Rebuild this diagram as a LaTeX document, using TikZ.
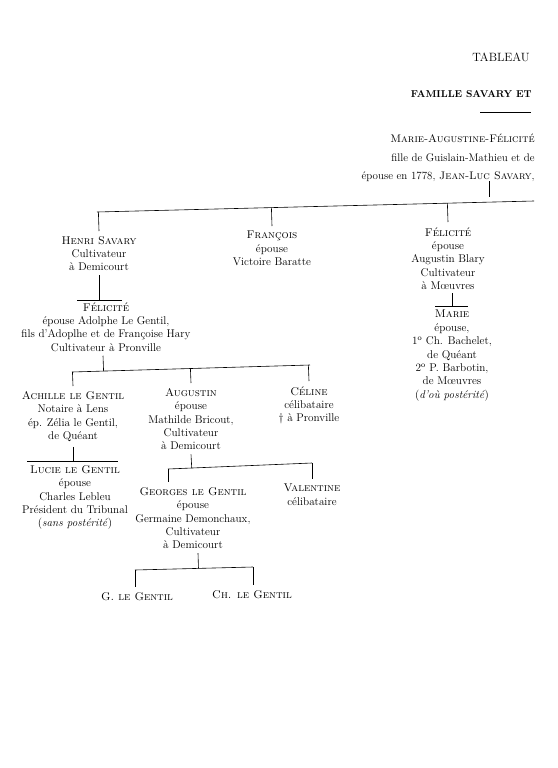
\documentclass[tikz,border=0pt]{standalone}
\usepackage{tikz}
\usetikzlibrary{calc}
\newcommand{\corps}[0]{\fontsize{11.2}{13.4}\selectfont}
\newcommand{\tige}[2]{\draw ($(#1)$) -- ($(#2)$)}

\begin{document}
\begin{tikzpicture}[x=1pt,y=-1pt,line width=0.6pt,
	perso/.style={align=center,anchor=north,inner sep=0pt,font=\corps},
	titre/.style={align=right,anchor=north east,inner sep=0pt,font=\corps}]
	\useasboundingbox (0,0) rectangle (557,768);
	% en-tete
	\node[titre,font=\fontsize{12}{14}\selectfont] (tableau) at (530,53) {TABLEAU};
	\node[titre,font=\fontsize{10}{12}\selectfont\bfseries] (famille) at (532,90) {FAMILLE SAVARY ET};
	\coordinate (r1) at (480,112);
	\coordinate (r2) at (531,112);
	\draw (r1) -- (r2);
	\node[titre,font=\fontsize{11}{18.5}\selectfont] (souche) at (535,134)
		{\textsc{Marie-Augustine-Félicité}\\fille de Guislain-Mathieu et de\\épouse en 1778, \textsc{Jean-Luc Savary},};
	% barres
	\coordinate (b1g) at (97,212);
	\coordinate (b1d) at (534,201);
	\coordinate (b2g) at (72,372);
	\coordinate (b2d) at (310,365);
	\coordinate (b3g) at (168,469);
	\coordinate (b3d) at (312,463);
	\coordinate (b4g) at (135,570);
	\coordinate (b4d) at (253,567);
	\coordinate (o1g) at (77,300);
	\coordinate (o1d) at (122,300);
	\coordinate (o2g) at (435,306);
	\coordinate (o2d) at (468,306);
	\coordinate (o3g) at (27,461);
	\coordinate (o3d) at (118,461);
	\coordinate (t1) at (489,181);
	\coordinate (t2) at (489,197);
	\foreach \g/\d in {b1g/b1d,b2g/b2d,b3g/b3d,b4g/b4d,o1g/o1d,o2g/o2d,o3g/o3d,t1/t2}
		\draw (\g) -- (\d);
	% personnes
	\node[perso] (henri) at (99,236) {\textsc{Henri Savary}\\Cultivateur\\à Demicourt};
	\node[perso] (francois) at (272,231) {\textsc{François}\\épouse\\Victoire Baratte};
	\node[perso] (felR) at (448,227) {\textsc{Félicité}\\épouse\\Augustin Blary\\Cultivateur\\à Mœuvres};
	\node[perso] (marie) at (452,310) {\textsc{Marie}\\épouse,\\1\textsuperscript{o} Ch. Bachelet,\\de Quéant\\2\textsuperscript{o} P. Barbotin,\\de Mœuvres\\(\textit{d’où postérité})};
	\node[perso] (felL) at (106,302) {\textsc{Félicité}\\épouse Adolphe Le Gentil,\\fils d’Adoplhe et de Françoise Hary\\Cultivateur à Pronville};
	\node[perso] (achille) at (73,391) {\textsc{Achille le Gentil}\\Notaire à Lens\\ép. Zélia le Gentil,\\de Quéant};
	\node[perso] (augustin) at (191,388) {\textsc{Augustin}\\épouse\\Mathilde Bricout,\\Cultivateur\\à Demicourt};
	\node[perso] (celine) at (309,386) {\textsc{Céline}\\célibataire\\\textdagger{} à Pronville};
	\node[perso] (lucie) at (75,465) {\textsc{Lucie le Gentil}\\épouse\\Charles Lebleu\\Président du Tribunal\\(\textit{sans postérité})};
	\node[perso] (georges) at (193,487) {\textsc{Georges le Gentil}\\épouse\\Germaine Demonchaux,\\Cultivateur\\à Demicourt};
	\node[perso] (valentine) at (312,484) {\textsc{Valentine}\\célibataire};
	\node[perso] (gg) at (137,592) {\textsc{G. le Gentil}};
	\node[perso] (chg) at (252,590) {\textsc{Ch. le Gentil}};
	% filiations
	\foreach \n in {henri,francois,felR}
		\tige{b1g)!(\n.north)!(b1d}{[yshift=5pt]\n.north};
	\foreach \n in {achille,augustin,celine}
		\tige{b2g)!(\n.north)!(b2d}{[yshift=5pt]\n.north};
	\tige{b3g}{[yshift=5pt]georges.north -| b3g};
	\tige{b3d}{[yshift=5pt]valentine.north -| b3d};
	\tige{b4g}{[yshift=5pt]gg.north -| b4g};
	\tige{b4d}{[yshift=5pt]chg.north -| b4d};
	\tige{[yshift=-4pt]henri.south}{henri.south |- o1g};
	\tige{[yshift=-3pt]felR.south -| marie.north}{marie.north |- o2g};
	\tige{[yshift=-5pt]achille.south}{achille.south |- o3g};
	\tige{[yshift=-4pt,xshift=-3pt]felL.south}{b2g)!([xshift=-3pt]felL.south)!(b2d};
	\tige{[yshift=-4pt]augustin.south}{b3g)!(augustin.south)!(b3d};
	\tige{[yshift=-4pt,xshift=5pt]georges.south}{b4g)!([xshift=5pt]georges.south)!(b4d};
\end{tikzpicture}
\end{document}
